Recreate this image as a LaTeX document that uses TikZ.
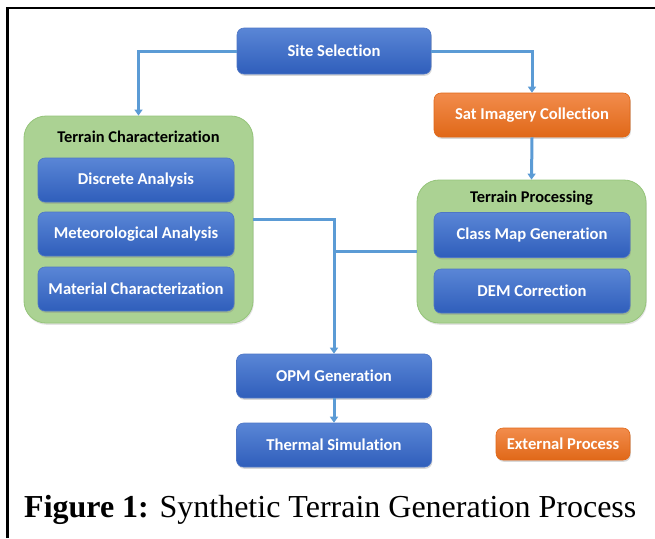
\documentclass[tikz,border=0pt]{standalone}
\usepackage{fontspec}
\setmainfont{Liberation Serif}
\newfontfamily\boxfont[Ligatures=NoCommon]{Carlito}
\usetikzlibrary{arrows.meta,shadows}

\definecolor{conncol}{HTML}{5B9BD5}
\definecolor{bluetop}{HTML}{5A86D6}
\definecolor{bluebot}{HTML}{2F5EBB}
\definecolor{orangetop}{HTML}{F28C4C}
\definecolor{orangebot}{HTML}{E06818}
\definecolor{greenfill}{HTML}{ABD293}
\definecolor{greenedge}{HTML}{95C47A}

\tikzset{
  procbox/.style={rounded corners=7pt, top color=bluetop, bottom color=bluebot,
    draw=bluebot!85!white, line width=0.6pt, text=white, inner sep=0pt,
    font=\boxfont\bfseries\fontsize{16.6}{19}\selectfont,
    drop shadow={opacity=0.3, shadow xshift=0.8pt, shadow yshift=-1.8pt}},
  extbox/.style={procbox, top color=orangetop, bottom color=orangebot, draw=orangebot},
  groupbox/.style={rounded corners=22pt, fill=greenfill, draw=greenedge, line width=0.8pt,
    drop shadow={opacity=0.22, shadow xshift=0.8pt, shadow yshift=-1.8pt}},
  grouptitle/.style={font=\boxfont\bfseries\fontsize{16.4}{19}\selectfont, text=black, inner sep=0pt},
  link/.style={draw=conncol, line width=3pt},
  conn/.style={link, -{Triangle[width=8pt,length=6pt]}},
}

\begin{document}
\begin{tikzpicture}[x=1pt,y=-1pt]
  \useasboundingbox (0,0) rectangle (655,538);
  \fill[white] (0,0) rectangle (655,538);

  % frame edges
  \draw[line width=2.5pt] (7.5,538) -- (7.5,8) -- (655,8);

  % grouping panels
  \node[groupbox, minimum width=229pt, minimum height=207pt] (tc) at (138.5,219.5) {};
  \node[grouptitle] (tctitle) at (138.5,137) {Terrain Characterization};
  \node[groupbox, minimum width=229pt, minimum height=143pt] (tp) at (531.5,251.5) {};
  \node[grouptitle] (tptitle) at (531.5,198) {Terrain Processing};

  % process steps
  \node[procbox, minimum width=194pt, minimum height=46pt] (site) at (334,51) {Site Selection};
  \node[extbox, minimum width=196pt, minimum height=44pt] (sat) at (532,115) {Sat Imagery Collection};
  \node[procbox, minimum width=196pt, minimum height=44pt] (disc) at (136,180) {Discrete Analysis};
  \node[procbox, minimum width=196pt, minimum height=44pt] (meteo) at (136,234) {Meteorological Analysis};
  \node[procbox, minimum width=196pt, minimum height=44pt] (mat) at (136,289) {Material Characterization};
  \node[procbox, minimum width=196pt, minimum height=45pt] (cmap) at (532,235) {Class Map Generation};
  \node[procbox, minimum width=196pt, minimum height=44pt] (dem) at (532,291) {DEM Correction};
  \node[procbox, minimum width=195pt, minimum height=44pt] (opm) at (334,376) {OPM Generation};
  \node[procbox, minimum width=195pt, minimum height=44pt] (therm) at (334,445) {Thermal Simulation};
  \node[extbox, minimum width=134pt, minimum height=32pt] (ext) at (563,444) {External Process};

  % connectors
  \draw[conn] (site.west) -| (tc.north);
  \draw[conn] (site.east) -| (sat.north);
  \draw[conn] (sat.south) -- (tp.north);
  \draw[conn] (tc.east) -| (opm.north);
  \draw[link] (tp.west) -- (tp.west -| opm.north);
  \draw[conn] (opm.south) -- (therm.north);

  % caption
  \node[anchor=base west, inner sep=0pt, font=\fontsize{32}{36}\selectfont] (caption) at (24,517)
    {\textbf{Figure 1:} Synthetic Terrain Generation Process};
\end{tikzpicture}
\end{document}
